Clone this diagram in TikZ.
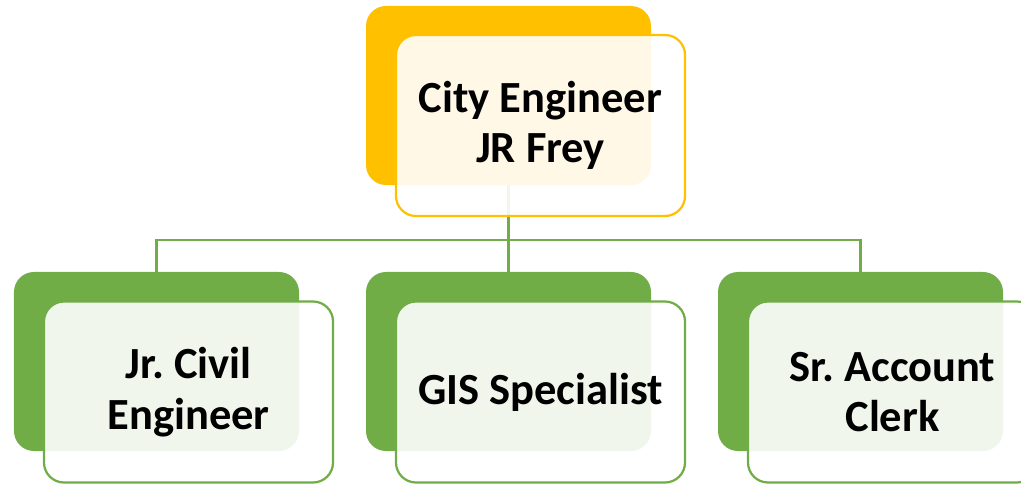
\documentclass[tikz,border=0pt]{standalone}
\usepackage{fontspec}
\setmainfont{Carlito}
\usepackage{tikz}
\definecolor{gold}{HTML}{FFC000}
\definecolor{leaf}{HTML}{70AD47}
\frenchspacing

\begin{document}
\begin{tikzpicture}[x=0.03cm, y=-0.03cm,
        backbox/.style={rounded corners=0.6cm, minimum width=8.55cm, minimum height=5.37cm, inner sep=0pt, outer sep=0pt},
        frontbox/.style={draw, line width=1.9pt, rounded corners=0.6cm, fill=white, fill opacity=0.9, text opacity=1,
            minimum width=8.67cm, minimum height=5.43cm, inner sep=0pt, outer sep=0pt, align=center,
            font=\fontsize{38}{43}\selectfont\bfseries},
        link/.style={leaf, line width=1.9pt}]
                \useasboundingbox (0, 0) rectangle (1021, 485);
                \node[backbox] (ceng) at (508.5, 95.5) {};
                \node[backbox] (jrcivil) at (156.5, 361.5) {};
                \node[backbox] (gis) at (508.5, 361.5) {};
                \node[backbox] (clerk) at (860.5, 361.5) {};
                \coordinate (bus) at (508.5, 240);
                \draw[link] (ceng.south) -- (bus);
                \draw[link] (jrcivil.north) |- (bus) -| (clerk.north);
                \draw[link] (bus) -- (gis.north);
                \fill[gold, rounded corners=0.6cm] (ceng.north west) rectangle (ceng.south east);
                \fill[leaf, rounded corners=0.6cm] (jrcivil.north west) rectangle (jrcivil.south east);
                \fill[leaf, rounded corners=0.6cm] (gis.north west) rectangle (gis.south east);
                \fill[leaf, rounded corners=0.6cm] (clerk.north west) rectangle (clerk.south east);
                \node[frontbox, draw=gold] (cengtxt) at (540.5, 125.5) {City Engineer\\JR Frey};
                \node[frontbox, draw=leaf] (jrciviltxt) at (188.5, 392) {Jr. Civil\\Engineer};
                \node[frontbox, draw=leaf] (gistxt) at (540.5, 392) {GIS Specialist};
                \node[frontbox, draw=leaf] (clerktxt) at (892.5, 392) {Sr. Account\\Clerk};
            \end{tikzpicture}
\end{document}
